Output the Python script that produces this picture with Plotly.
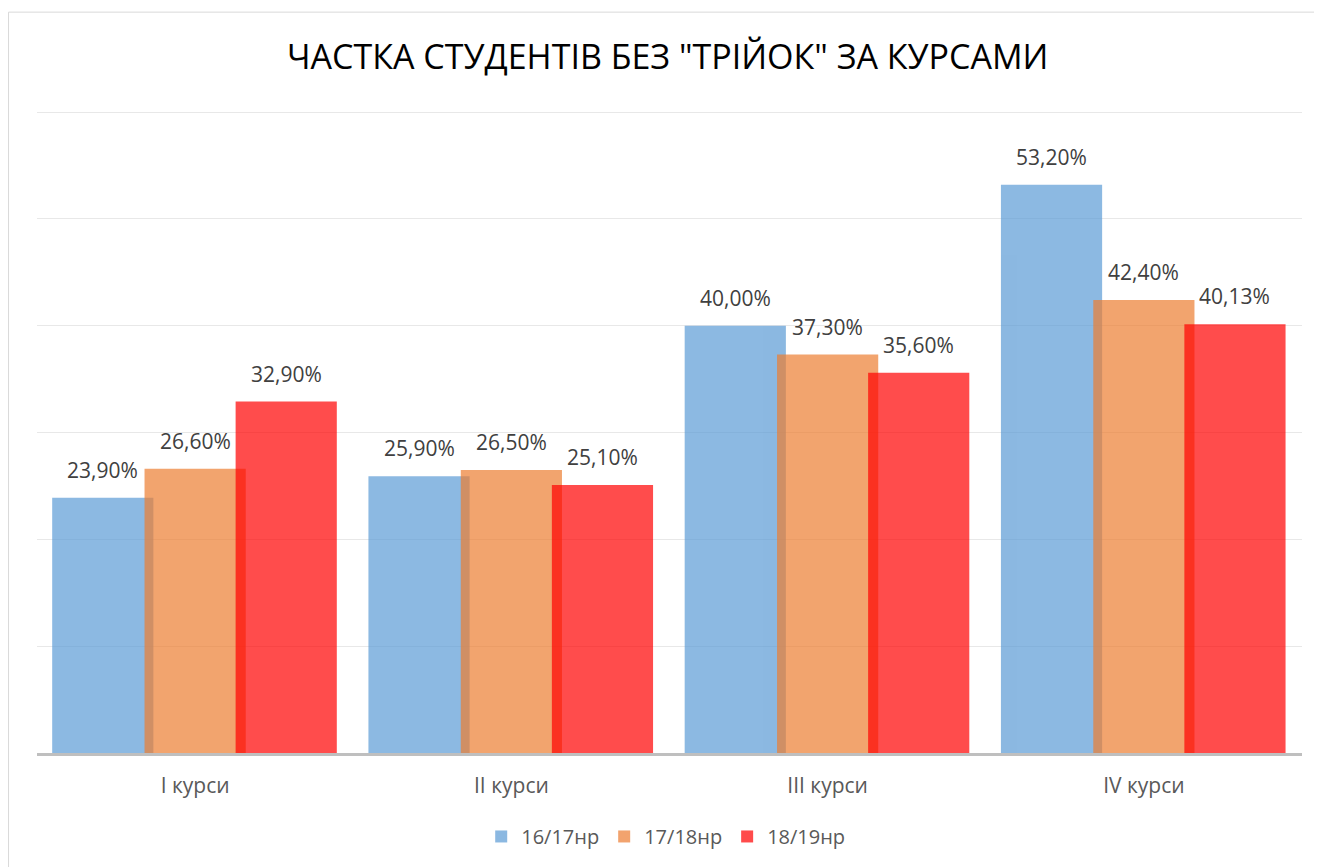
import plotly.graph_objects as go

categories = ["I курси", "II курси", "III курси", "IV курси"]
series_names = ["16/17нр", "17/18нр", "18/19нр"]
values_1617 = [23.90, 25.90, 40.00, 53.20]
values_1718 = [26.60, 26.50, 37.30, 42.40]
values_1819 = [32.90, 25.10, 35.60, 40.13]
colors = ["rgb(91,155,213)", "rgb(237,125,49)", "rgb(255,0,0)"]
offsets = [-0.452, -0.16, 0.128]
bar_width = 0.32

series = [values_1617, values_1718, values_1819]
xs = list(range(len(categories)))

fig = go.Figure()
annotations = []
for name, vals, col, off in zip(series_names, series, colors, offsets):
    fig.add_trace(go.Bar(
        x=xs, y=vals, name=name, marker=dict(color=col, line=dict(width=0)),
        opacity=0.7, offset=off, width=bar_width, hoverinfo="skip",
    ))
    for x, v in zip(xs, vals):
        annotations.append(dict(
            x=x + off + bar_width / 2, y=v, xref="x", yref="y",
            text=f"{v:.2f}%".replace(".", ","), showarrow=False,
            yshift=28, font=dict(size=21, color="#404040", family="Open Sans"),
        ))

fig.update_layout(
    width=1322, height=867,
    barmode="overlay",
    paper_bgcolor="white", plot_bgcolor="white",
    margin=dict(l=29, r=28, t=103, b=122),
    title=dict(text='ЧАСТКА СТУДЕНТІВ БЕЗ "ТРІЙОК" ЗА КУРСАМИ',
               x=0.499, xanchor="center", y=0.9435, yanchor="middle",
               font=dict(size=34, color="#000000", family="Open Sans")),
    xaxis=dict(range=[-0.5, 3.5], tickvals=xs, ticktext=categories,
               showgrid=False, zeroline=False, showline=True,
               linecolor="#BFBFBF", linewidth=3, ticks="",
               ticklabelstandoff=12,
               tickfont=dict(size=21, color="#595959", family="Open Sans")),
    yaxis=dict(range=[0, 60.1], dtick=10, showticklabels=False,
               gridcolor="#E8E8E8", gridwidth=1, zeroline=False),
    legend=dict(orientation="h", x=0.497, xanchor="center", y=-0.13,
                yanchor="middle", font=dict(size=20, color="#595959", family="Open Sans"),
                itemwidth=30),
    annotations=annotations,
    shapes=[
        dict(type="line", xref="paper", yref="paper", x0=-0.0225, x1=1.1,
             y0=1.154, y1=1.154, line=dict(color="#D9D9D9", width=1)),
        dict(type="line", xref="paper", yref="paper", x0=-0.0225, x1=-0.0225,
             y0=1.154, y1=-0.3, line=dict(color="#D9D9D9", width=1)),
    ],
)

fig.write_html("out.html")
